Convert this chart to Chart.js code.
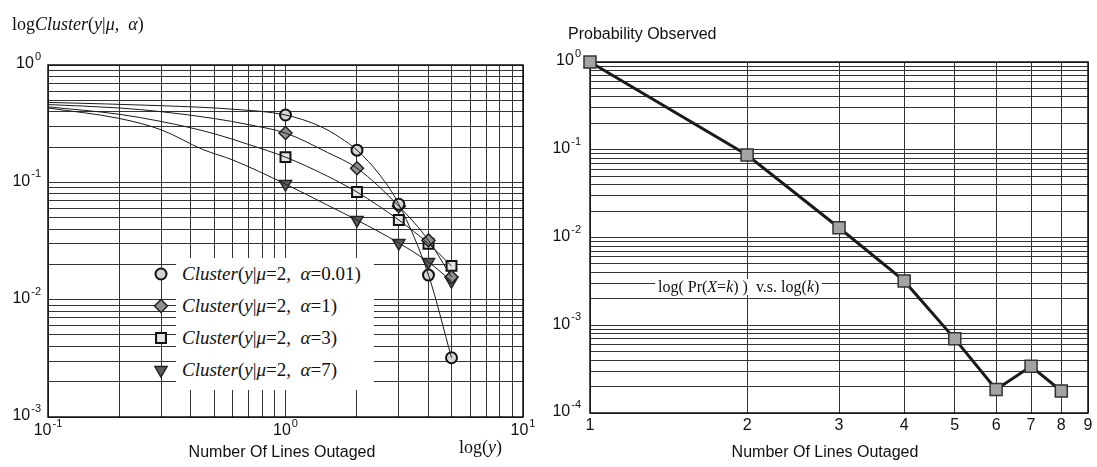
<!DOCTYPE html>
<html>
<head>
<meta charset="utf-8">
<script src="https://cdn.jsdelivr.net/npm/chart.js@4.4.1/dist/chart.umd.min.js"></script>
<style>
  body { margin: 0; background: #fff; }
  #wrap { position: relative; width: 1097px; height: 467px; overflow: hidden; font-family: "Liberation Sans", Arial, sans-serif; color: #111; }
  canvas { position: absolute; top: 0; }
  .lbl { position: absolute; white-space: nowrap; line-height: 1; }
  .serif { font-family: "Liberation Serif", "Times New Roman", serif; }
  .center { transform: translateX(-50%); }
  #legend { position: absolute; left: 176px; top: 258px; width: 198px; background: #fff; padding-bottom: 4px; font-family: "Liberation Serif", "Times New Roman", serif; }
  #legend div { height: 32px; line-height: 32px; padding-left: 6px; font-size: 19px; white-space: nowrap; }
</style>
</head>
<body>
<div id="wrap">
  <canvas id="leftChart" width="548" height="467" style="left:0"></canvas>
  <canvas id="rightChart" width="549" height="467" style="left:548px"></canvas>

  <div class="lbl serif" style="left:12px;top:15px;font-size:18px">log<i>Cluster</i>(<i>y</i>|<i>μ</i>, &nbsp;<i>α</i>)</div>
  <div class="lbl" style="left:568px;top:26px;font-size:16px">Probability Observed</div>
  <div class="lbl center" style="left:282px;top:444px;font-size:16px">Number Of Lines Outaged</div>
  <div class="lbl center" style="left:825px;top:444px;font-size:16px">Number Of Lines Outaged</div>
  <div class="lbl serif" style="left:459px;top:438px;font-size:18px">log(<i>y</i>)</div>
  <div class="lbl serif" style="left:655px;top:279px;font-size:16px;background:#fff;padding:0 3px">log( Pr(<i>X</i>=<i>k</i>) )&nbsp; v.s. log(<i>k</i>)</div>

  <div id="legend">
    <div><i>Cluster</i>(<i>y</i>|<i>μ</i>=2, &nbsp;<i>α</i>=0.01)</div>
    <div><i>Cluster</i>(<i>y</i>|<i>μ</i>=2, &nbsp;<i>α</i>=1)</div>
    <div><i>Cluster</i>(<i>y</i>|<i>μ</i>=2, &nbsp;<i>α</i>=3)</div>
    <div><i>Cluster</i>(<i>y</i>|<i>μ</i>=2, &nbsp;<i>α</i>=7)</div>
  </div>
</div>

<script>
// left panel: marker values at y = 1..5
const clusterMarkX = [1, 2, 3, 4, 5];
const clusterA001 = [0.375, 0.188, 0.065, 0.0162, 0.0032];
const clusterA1   = [0.263, 0.132, 0.0626, 0.032, 0.0156];
const clusterA3   = [0.164, 0.0826, 0.0477, 0.030, 0.0194];
const clusterA7   = [0.0967, 0.0477, 0.0304, 0.0209, 0.0144];

// left panel: curves read along their length
const curveA001X = [0.1, 0.3, 0.6, 1, 1.4, 1.7, 2, 2.5, 3, 4, 5];
const curveA001Y = [0.48, 0.45, 0.42, 0.375, 0.30, 0.24, 0.188, 0.115, 0.065, 0.0162, 0.0032];
const curveA1X = [0.1, 0.2, 0.3, 0.5, 0.7, 1, 1.5, 2, 3, 4, 5];
const curveA1Y = [0.46, 0.43, 0.40, 0.35, 0.31, 0.263, 0.18, 0.132, 0.0626, 0.032, 0.0156];
const curveA3X = [0.1, 0.2, 0.3, 0.5, 0.7, 1, 1.5, 2, 3, 4, 5];
const curveA3Y = [0.44, 0.38, 0.33, 0.26, 0.21, 0.164, 0.113, 0.0826, 0.0477, 0.030, 0.0194];
const curveA7X = [0.1, 0.2, 0.3, 0.45, 0.6, 1, 1.5, 2, 3, 4, 5];
const curveA7Y = [0.43, 0.35, 0.28, 0.19, 0.155, 0.0967, 0.064, 0.0477, 0.0304, 0.0209, 0.0144];

// right panel: observed probability per number of lines
const probK = [1, 2, 3, 4, 5, 6, 7, 8];
const probObserved = [1.0, 0.087, 0.0129, 0.0032, 0.0007, 0.000185, 0.00034, 0.000178];

// tick labels
const leftXExp = [-1, 0, 1];
const leftYExp = [0, -1, -2, -3];
const rightYExp = [0, -1, -2, -3, -4];
const rightXTicks = [1, 2, 3, 4, 5, 6, 7, 8, 9];

const SANS = '"Liberation Sans", Arial, sans-serif';
const GRID = '#333';

const markerStyles = [
  { pointStyle: 'circle', radius: 5.5, rotation: 0, bg: '#d4d4d4', border: '#111', bw: 2 },
  { pointStyle: 'rectRot', radius: 6.5, rotation: 0, bg: '#8f8f8f', border: '#222', bw: 1.5 },
  { pointStyle: 'rect', radius: 7, rotation: 0, bg: '#e4e4e4', border: '#111', bw: 2 },
  { pointStyle: 'triangle', radius: 7, rotation: 180, bg: '#5c5c5c', border: '#222', bw: 1.5 }
];

function logTicks(min, max) {
  const out = [];
  for (let e = Math.floor(Math.log10(min)); e <= Math.ceil(Math.log10(max)); e++) {
    for (let m = 1; m <= 9; m++) {
      const v = m * Math.pow(10, e);
      if (v >= min * 0.999 && v <= max * 1.001) out.push({ value: v });
    }
  }
  return out;
}

function drawPow(ctx, exp, x, y, align) {
  ctx.font = '16px ' + SANS;
  const wb = ctx.measureText('10').width;
  ctx.font = '11px ' + SANS;
  const we = ctx.measureText(String(exp)).width;
  const w = wb + 1 + we;
  const x0 = align === 'right' ? x - w : x - w / 2;
  ctx.textAlign = 'left';
  ctx.textBaseline = 'middle';
  ctx.font = '16px ' + SANS;
  ctx.fillText('10', x0, y);
  ctx.font = '11px ' + SANS;
  ctx.fillText(String(exp), x0 + wb + 1, y - 7);
}

const framePlugin = {
  id: 'frame',
  beforeDatasetsDraw(chart) {
    const { ctx, chartArea: a } = chart;
    ctx.save();
    ctx.strokeStyle = '#111';
    ctx.lineWidth = 1.5;
    ctx.strokeRect(a.left, a.top, a.right - a.left, a.bottom - a.top);
    ctx.restore();
  },
  afterDraw(chart, args, opts) {
    const { ctx, chartArea: a, scales } = chart;
    ctx.save();
    ctx.fillStyle = '#111';
    opts.yExp.forEach(e => drawPow(ctx, e, a.left - opts.yGap, scales.y.getPixelForValue(Math.pow(10, e)) - 1, 'right'));
    if (opts.xExp) {
      opts.xExp.forEach(e => drawPow(ctx, e, scales.x.getPixelForValue(Math.pow(10, e)), a.bottom + 14, 'center'));
    }
    if (opts.xPlain) {
      ctx.font = '16px ' + SANS;
      ctx.textAlign = 'center';
      ctx.textBaseline = 'middle';
      opts.xPlain.forEach(v => ctx.fillText(String(v), scales.x.getPixelForValue(v), a.bottom + 13));
    }
    ctx.restore();
  }
};

// markers of the left legend, drawn with the library's own point shapes
const legendMarkers = {
  id: 'legendMarkers',
  afterDatasetsDraw(chart) {
    const ctx = chart.ctx;
    const draw = Chart.helpers && Chart.helpers.drawPoint;
    if (!draw) return;
    ctx.save();
    markerStyles.forEach((s, i) => {
      ctx.fillStyle = s.bg;
      ctx.strokeStyle = s.border;
      ctx.lineWidth = s.bw;
      draw(ctx, { pointStyle: s.pointStyle, radius: s.radius, rotation: s.rotation, borderWidth: s.bw }, 161, 274 + i * 32);
    });
    ctx.restore();
  }
};

function axis(min, max, horizontal, ticksFn) {
  return {
    type: 'logarithmic',
    min: min,
    max: max,
    afterBuildTicks: s => { s.ticks = ticksFn(); },
    afterFit: s => { if (horizontal) s.height = 0; else s.width = 0; },
    ticks: { display: false },
    grid: { color: GRID, lineWidth: 1, drawTicks: false },
    border: { display: false },
    title: { display: false }
  };
}

const curves = [[curveA001X, curveA001Y], [curveA1X, curveA1Y], [curveA3X, curveA3Y], [curveA7X, curveA7Y]];
const marks = [clusterA001, clusterA1, clusterA3, clusterA7];

const leftDatasets = [];
curves.forEach(c => {
  leftDatasets.push({
    data: c[0].map((x, i) => ({ x: x, y: c[1][i] })),
    showLine: true,
    borderColor: '#1a1a1a',
    borderWidth: 1,
    pointRadius: 0,
    cubicInterpolationMode: 'monotone',
    fill: false
  });
});
marks.forEach((m, k) => {
  const s = markerStyles[k];
  leftDatasets.push({
    data: clusterMarkX.map((x, i) => ({ x: x, y: m[i] })),
    showLine: false,
    pointStyle: s.pointStyle,
    pointRadius: s.radius,
    pointRotation: s.rotation,
    pointBackgroundColor: s.bg,
    pointBorderColor: s.border,
    pointBorderWidth: s.bw,
    clip: false
  });
});

new Chart(document.getElementById('leftChart'), {
  type: 'scatter',
  data: { datasets: leftDatasets },
  options: {
    responsive: false,
    animation: false,
    devicePixelRatio: 1,
    layout: { padding: { left: 48, right: 25, top: 65, bottom: 50 }, autoPadding: false },
    scales: {
      x: axis(0.1, 10, true, () => logTicks(0.1, 10)),
      y: axis(0.001, 1, false, () => logTicks(0.001, 1))
    },
    plugins: {
      legend: { display: false },
      tooltip: { enabled: false },
      frame: { yExp: leftYExp, yGap: 7, xExp: leftXExp }
    }
  },
  plugins: [framePlugin, legendMarkers]
});

new Chart(document.getElementById('rightChart'), {
  type: 'scatter',
  data: {
    datasets: [{
      data: probK.map((k, i) => ({ x: k, y: probObserved[i] })),
      showLine: true,
      borderColor: '#1a1a1a',
      borderWidth: 3,
      pointStyle: 'rect',
      pointRadius: 8.5,
      pointBackgroundColor: '#a3a3a3',
      pointBorderColor: '#333',
      pointBorderWidth: 1.5,
      clip: false
    }]
  },
  options: {
    responsive: false,
    animation: false,
    devicePixelRatio: 1,
    layout: { padding: { left: 42, right: 9, top: 62, bottom: 54 }, autoPadding: false },
    scales: {
      x: axis(1, 9, true, () => rightXTicks.map(v => ({ value: v }))),
      y: axis(0.0001, 1, false, () => logTicks(0.0001, 1))
    },
    plugins: {
      legend: { display: false },
      tooltip: { enabled: false },
      frame: { yExp: rightYExp, yGap: 9, xPlain: rightXTicks }
    }
  },
  plugins: [framePlugin]
});
</script>
</body>
</html>
